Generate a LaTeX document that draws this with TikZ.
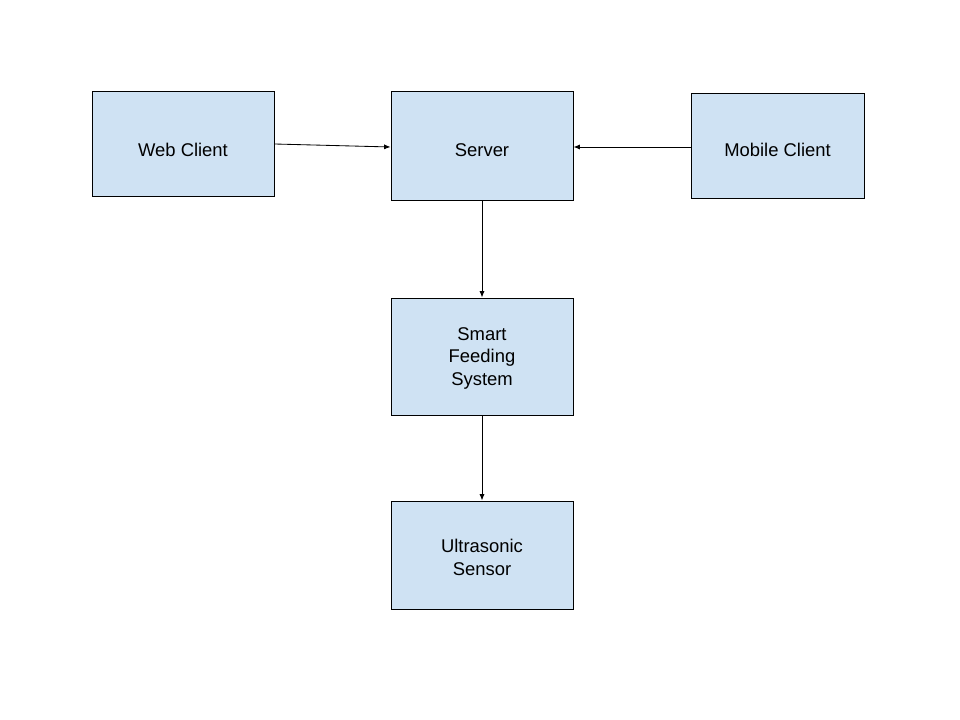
\documentclass[tikz,border=0pt]{standalone}
\usepackage{fontspec}
\setmainfont{Liberation Sans}
\usetikzlibrary{shapes,arrows.meta}
\definecolor{boxblue}{HTML}{CFE2F3}

\begin{document}
\begin{tikzpicture}[x=0.025cm,y=-0.025cm,
	box/.style={rectangle, draw=black, fill=boxblue, line width=0.7pt, inner sep=0mm},
	boxtext/.style={align=center, inner sep=0mm, font=\fontsize{13.1}{16}\selectfont},
	link/.style={-{Latex[length=4.5pt,width=3.6pt]}, line width=0.6pt}]
	\useasboundingbox (0,0) rectangle (960,720);

	\node[box, minimum width=182*0.025cm, minimum height=105*0.025cm] at (183,143.5) (web) {};
	\node[boxtext] at (183,149.5) (webtxt) {Web Client};

	\node[box, minimum width=182*0.025cm, minimum height=109*0.025cm] at (482,145.5) (server) {};
	\node[boxtext] at (482,150) (servertxt) {Server};

	\node[box, minimum width=173*0.025cm, minimum height=105*0.025cm] at (777.5,145.5) (mobile) {};
	\node[boxtext] at (777.5,150) (mobiletxt) {Mobile Client};

	\node[box, minimum width=182*0.025cm, minimum height=117*0.025cm] at (482,356.5) (feeder) {};
	\node[boxtext] at (482,358) (feedertxt) {Smart\\Feeding\\System};

	\node[box, minimum width=182*0.025cm, minimum height=108*0.025cm] at (482,555) (sensor) {};
	\node[boxtext] at (482,557.5) (sensortxt) {Ultrasonic\\Sensor};

	\draw[link] ([yshift=-0.5*0.025cm]web.east) -- ([yshift=-1.5*0.025cm]server.west);
	\draw[link] ([yshift=-1.5*0.025cm]mobile.west) -- ([yshift=-1.5*0.025cm]server.east);
	\draw[link] (server) -- (feeder);
	\draw[link] (feeder) -- (sensor);

\end{tikzpicture}
\end{document}
